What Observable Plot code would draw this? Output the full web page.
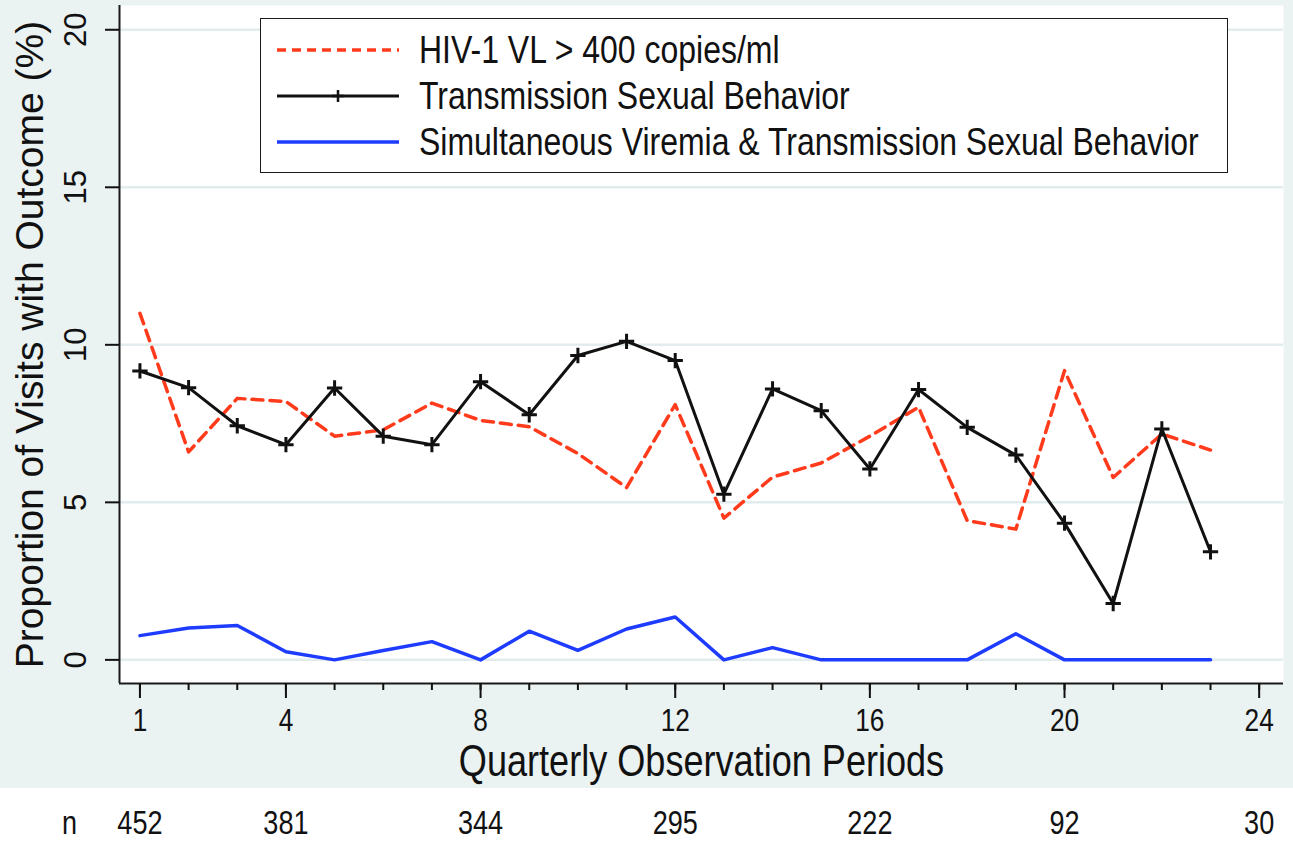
<!DOCTYPE html>
<html>
<head>
<meta charset="utf-8">
<script src="https://cdn.jsdelivr.net/npm/d3@7"></script>
<script src="https://cdn.jsdelivr.net/npm/@observablehq/plot@0.6"></script>
<style>
  html, body { margin: 0; padding: 0; background: #fff; }
  #wrap { position: relative; width: 1293px; height: 841px; overflow: hidden; }
  #legend { position: absolute; left: 260px; top: 18px; width: 968px; height: 155px; box-sizing: border-box;
    border: 1.5px solid #1a1a1a; background: #fff; }
  .row { position: absolute; left: 0; height: 40px; display: flex; align-items: center; }
  .row svg { margin-left: 14px; width: 126px; height: 20px; flex: none; }
  .row span { display: inline-block; margin-left: 18px; font-family: "Liberation Sans", Arial, sans-serif;
    font-size: 39px; color: #111; white-space: nowrap; transform: scaleX(0.82); transform-origin: left center; }
</style>
</head>
<body>
<div id="wrap"></div>
<script>
// ---- data ----
const periods = [1,2,3,4,5,6,7,8,9,10,11,12,13,14,15,16,17,18,19,20,21,22,23];
const viremia = [11.0, 6.6, 8.3, 8.2, 7.1, 7.3, 8.15, 7.6, 7.4, 6.55, 5.47, 8.1, 4.5, 5.8, 6.25, 7.1, 8.02, 4.42, 4.15, 9.18, 5.79, 7.17, 6.66];
const behavior = [9.17, 8.64, 7.43, 6.83, 8.63, 7.1, 6.83, 8.83, 7.78, 9.66, 10.11, 9.5, 5.26, 8.6, 7.91, 6.06, 8.58, 7.38, 6.5, 4.34, 1.79, 7.33, 3.43];
const simultaneous = [0.77, 1.01, 1.09, 0.26, 0, 0.3, 0.58, 0, 0.91, 0.3, 0.98, 1.36, 0, 0.39, 0, 0, 0, 0, 0.83, 0, 0, 0, 0];
const seriesNames = ["HIV-1 VL > 400 copies/ml", "Transmission Sexual Behavior", "Simultaneous Viremia & Transmission Sexual Behavior"];
const yTicks = [0, 5, 10, 15, 20];
const xMajor = [1, 4, 8, 12, 16, 20, 24];
const xMinor = [1,2,3,4,5,6,7,8,9,10,11,12,13,14,15,16,17,18,19,20,21,22,23,24];
const nTicks = [1, 4, 8, 12, 16, 20, 24];
const nValues = [452, 381, 344, 295, 222, 92, 30];
const xTitle = "Quarterly Observation Periods";
const yTitle = "Proportion of Visits with Outcome (%)";
const xDomain = [0.58, 24.5];
const yDomain = [-0.75, 20.77];

const colors = {red: "#ff3b1c", black: "#111111", blue: "#1e3cff"};
const sans = '"Liberation Sans", Arial, sans-serif';
const NARROW = 0.82;

const rows = (vals) => periods.map((p, i) => ({x: p, y: vals[i]}));
const nRows = nTicks.map((t, i) => ({x: t, n: nValues[i]}));

const chart = Plot.plot({
  width: 1293,
  height: 841,
  marginLeft: 119,
  marginRight: 10,
  marginTop: 5,
  marginBottom: 158,
  x: {domain: xDomain},
  y: {domain: yDomain},
  style: {background: "linear-gradient(#eaf2f2 0px, #eaf2f2 788px, #ffffff 788px)", color: "#111", fontFamily: sans},
  marks: [
    Plot.frame({fill: "white", stroke: "none"}),
    Plot.gridY(yTicks, {stroke: "#e2ecec", strokeOpacity: 1, strokeWidth: 2.5}),
    Plot.line(rows(simultaneous), {x: "x", y: "y", stroke: colors.blue, strokeWidth: 3.5}),
    Plot.line(rows(viremia), {x: "x", y: "y", stroke: colors.red, strokeWidth: 3.5, strokeDasharray: "11,7"}),
    Plot.line(rows(behavior), {x: "x", y: "y", stroke: colors.black, strokeWidth: 3}),
    Plot.dot(rows(behavior), {x: "x", y: "y", symbol: "plus", r: 5, stroke: colors.black, strokeWidth: 3}),
    Plot.ruleX([xDomain[0]], {stroke: "#1a1a1a", strokeWidth: 2}),
    Plot.ruleY([yDomain[0]], {stroke: "#1a1a1a", strokeWidth: 2}),
    Plot.axisY(yTicks, {tickSize: 14, tickFormat: () => "", strokeWidth: 2, label: null}),
    Plot.text(yTicks, {y: d => d, text: d => String(d), frameAnchor: "left", textAnchor: "middle", lineAnchor: "middle",
      dx: -43, rotate: -90, fontSize: 31, fill: "#111"}),
    Plot.text([yTitle], {frameAnchor: "left", textAnchor: "middle", lineAnchor: "middle", dx: -89, rotate: -90,
      fontSize: 39, fill: "#111"}),
    Plot.axisX(xMinor, {tickSize: 7, tickFormat: () => "", strokeWidth: 2, label: null}),
    Plot.axisX(xMajor, {tickSize: 15, tickPadding: 10, strokeWidth: 2, fontSize: 32, label: null}),
    Plot.text([xTitle], {frameAnchor: "bottom", textAnchor: "middle", lineAnchor: "middle", dy: 78, fontSize: 44,
      fill: "#111"}),
    Plot.text(nRows, {x: "x", text: d => String(d.n), frameAnchor: "bottom", textAnchor: "middle", lineAnchor: "middle",
      dy: 140, fontSize: 33, fill: "#111"}),
    Plot.text(["n"], {frameAnchor: "bottom-left", textAnchor: "middle", lineAnchor: "middle", dx: -50, dy: 140,
      fontSize: 33, fill: "#111"})
  ]
});

const wrap = document.getElementById("wrap");
wrap.appendChild(chart);

// condense the horizontal texts (the reference uses a narrow face)
chart.querySelectorAll("text").forEach(t => {
  const tr = (t.getAttribute("transform") || "") + (t.parentNode.getAttribute("transform") || "");
  if (tr.includes("rotate")) return;
  const L = t.getComputedTextLength();
  if (L > 0) {
    t.setAttribute("textLength", (L * NARROW).toFixed(2));
    t.setAttribute("lengthAdjust", "spacingAndGlyphs");
  }
});

// legend
const legend = document.createElement("div");
legend.id = "legend";
const swatches = [
  `<svg viewBox="0 0 126 20"><line x1="2" y1="10" x2="124" y2="10" stroke="${colors.red}" stroke-width="3.5" stroke-dasharray="9,6"/></svg>`,
  `<svg viewBox="0 0 126 20"><line x1="2" y1="10" x2="124" y2="10" stroke="${colors.black}" stroke-width="3"/><path d="M63 4V16M57 10H69" stroke="${colors.black}" stroke-width="2.5"/></svg>`,
  `<svg viewBox="0 0 126 20"><line x1="2" y1="10" x2="124" y2="10" stroke="${colors.blue}" stroke-width="3.5"/></svg>`
];
const rowTops = [11, 57, 103];
seriesNames.forEach((name, i) => {
  const r = document.createElement("div");
  r.className = "row";
  r.style.top = rowTops[i] + "px";
  r.innerHTML = swatches[i];
  const s = document.createElement("span");
  s.textContent = name;
  r.appendChild(s);
  legend.appendChild(r);
});
wrap.appendChild(legend);
</script>
</body>
</html>
